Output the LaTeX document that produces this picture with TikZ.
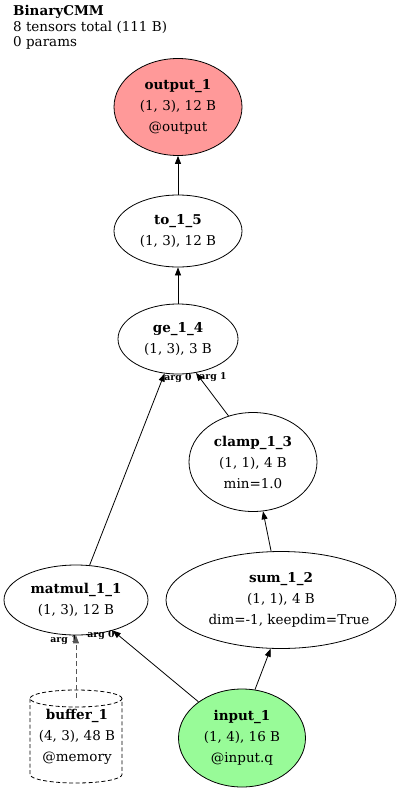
\documentclass[tikz,border=0pt]{standalone}
\usepackage{fontspec}
\setmainfont{DejaVu Serif}
\usetikzlibrary{arrows.meta,shapes.geometric}
\definecolor{outfill}{HTML}{FF9999}
\definecolor{infill}{HTML}{98FB98}
\definecolor{dashgray}{HTML}{555555}
\tikzset{
  op/.style={ellipse, draw=black, line width=0.8pt, inner sep=0pt, align=center,
    font=\fontsize{13.5}{21}\selectfont},
  edge/.style={draw=black, line width=0.8pt, -{Triangle[length=8pt,width=6pt]}},
  dedge/.style={draw=dashgray, line width=0.9pt, dash pattern=on 5pt off 3pt, -{Triangle[length=8pt,width=6pt]}},
  elab/.style={inner sep=0pt, font=\bfseries\fontsize{9.3}{10}\selectfont},
  cyl/.style={draw=black, line width=0.8pt, dash pattern=on 4pt off 2.5pt}
}
\begin{document}
\begin{tikzpicture}[x=1pt,y=-1pt]
\useasboundingbox (0,0) rectangle (400,792);
\node[anchor=north west, align=left, inner sep=0pt, font=\fontsize{13.5}{15.2}\selectfont] (title) at (13,5.5)
  {\textbf{BinaryCMM}\\8 tensors total (111 B)\\0 params};

\node[op, fill=outfill, minimum width=128pt, minimum height=97pt] (out) at (178,107)
  {\textbf{output\_1}\\(1, 3), 12 B\\@output};
\node[op, minimum width=128pt, minimum height=72pt] (to) at (178,231)
  {\textbf{to\_1\_5}\\(1, 3), 12 B};
\node[op, minimum width=120pt, minimum height=70pt] (ge) at (178,339)
  {\textbf{ge\_1\_4}\\(1, 3), 3 B};
\node[op, minimum width=128pt, minimum height=99pt] (clamp) at (253,462)
  {\textbf{clamp\_1\_3}\\(1, 1), 4 B\\min=1.0};
\node[op, minimum width=230pt, minimum height=97pt] (sum) at (281,600)
  {\textbf{sum\_1\_2}\\(1, 1), 4 B\\\hspace*{8pt}dim=-1, keepdim=True\hspace*{-8pt}};
\node[op, minimum width=144pt, minimum height=70pt] (matmul) at (76,600)
  {\textbf{matmul\_1\_1}\\(1, 3), 12 B};
\node[op, fill=infill, minimum width=127pt, minimum height=98pt] (input) at (242,738)
  {\textbf{input\_1}\\(1, 4), 16 B\\@input.q};

% buffer cylinder
\draw[cyl] (76,698.5) ellipse[x radius=46pt, y radius=8.5pt];
\draw[cyl] (30,698.5) -- (30,774.5) arc[start angle=180, end angle=360, x radius=46pt, y radius=8.5pt] -- (122,698.5);
\node[inner sep=0pt, align=center, font=\fontsize{13.5}{21}\selectfont] (buffer) at (77,737)
  {\textbf{buffer\_1}\\(4, 3), 48 B\\@memory};
\coordinate (buftop) at (76,698);

% edge labels
\node[elab] (l1) at (178,378) {arg 0};
\node[elab] (l2) at (213,377) {arg 1};
\node[elab] (l3) at (101,635) {arg 0};
\node[elab] (l4) at (64,640) {arg 1};

% edges
\draw[edge] (to) -- (out);
\draw[edge] (ge) -- (to);
\draw[edge] (matmul) -- (ge);
\draw[edge] (clamp.118) -- (ge.-62);
\draw[edge] (sum) -- (clamp);
\draw[edge] (input.75) -- (sum.-102);
\draw[edge] (input) -- (matmul);
\draw[dedge] (buftop) -- (matmul);
\end{tikzpicture}
\end{document}
